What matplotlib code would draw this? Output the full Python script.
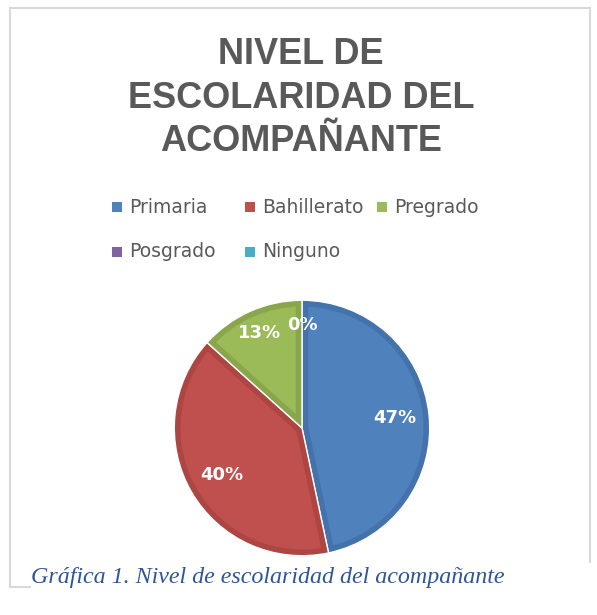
import matplotlib.pyplot as plt
from matplotlib.patches import Wedge, Rectangle
from matplotlib.lines import Line2D

# data
categories = ["Primaria", "Bahillerato", "Pregrado", "Posgrado", "Ninguno"]
counts = [7, 6, 2, 0, 0]
colors = ["#4F81BD", "#C0504D", "#9BBB59", "#8064A2", "#4BACC6"]
edge_colors = ["#4472AA", "#AD4642", "#89A64D", "#6D5590", "#3C97AF"]

title = "NIVEL DE\nESCOLARIDAD DEL\nACOMPAÑANTE"
caption = "Gráfica 1. Nivel de escolaridad del acompañante"

W, H = 597, 615
fig = plt.figure(figsize=(W / 100, H / 100), dpi=100)


def fx(px):
    return px / W


def fy(py):
    return 1 - py / H


# chart frame (light gray, cut at bottom-left by the caption)
frame = "#D9D9D9"
fig.add_artist(Line2D([fx(10), fx(590)], [fy(8), fy(8)], color=frame, lw=1.5))
fig.add_artist(Line2D([fx(10), fx(10)], [fy(8), fy(587)], color=frame, lw=1.5))
fig.add_artist(Line2D([fx(10), fx(30)], [fy(587), fy(587)], color=frame, lw=1.5))
fig.add_artist(Line2D([fx(590), fx(590)], [fy(8), fy(562)], color=frame, lw=1.5))

# title
fig.text(fx(301), fy(98), title, ha="center", va="center", fontsize=26,
         fontweight="bold", color="#595959", linespacing=1.3,
         family="Liberation Sans")

# pie
ax = fig.add_axes([fx(173), fy(557), fx(258), 258 / H])
wedges, texts, autotexts = ax.pie(
    counts, colors=colors, startangle=90, counterclock=False,
    autopct="%1.0f%%", pctdistance=0.73, radius=1,
    wedgeprops=dict(linewidth=0),
    textprops=dict(color="white", fontsize=13, fontweight="bold"))
# darker inner band and thin white separators on each slice
for w, ec in zip(wedges, edge_colors):
    if w.theta2 - w.theta1 <= 0:
        continue
    band = Wedge(w.center, w.r, w.theta1, w.theta2, facecolor="none",
                 edgecolor=ec, linewidth=9, joinstyle="miter")
    ax.add_patch(band)
    band.set_clip_path(w)
    sep = Wedge(w.center, w.r, w.theta1, w.theta2, facecolor="none",
                edgecolor="white", linewidth=1.0)
    ax.add_patch(sep)
for t in autotexts:
    t.set_zorder(5)
# small slices: labels a bit further out
for i, t in enumerate(autotexts):
    if counts[i] / sum(counts) < 0.2:
        x, y = t.get_position()
        r = (x ** 2 + y ** 2) ** 0.5
        t.set_position((x / r * 0.81, y / r * 0.81))
for t in autotexts[4:]:
    t.set_visible(False)
ax.set_xlim(-1.01, 1.01)
ax.set_ylim(-1.01, 1.01)

# legend, laid out like the Excel legend
leg_x = [112, 245, 377, 112, 245]
leg_y = [207, 207, 207, 252, 252]
for name, c, lx, ly in zip(categories, colors, leg_x, leg_y):
    fig.add_artist(Rectangle((fx(lx), fy(ly + 5)), fx(10), 10 / H,
                             facecolor=c, edgecolor="none"))
    fig.text(fx(lx + 17), fy(ly), name, ha="left", va="center", fontsize=13.5,
             color="#595959")

# caption
fig.text(fx(31), fy(578), caption, ha="left", va="center", fontsize=17.3,
         style="italic", color="#2F5597", family="Liberation Serif")

fig.savefig("out.png", dpi=100)
